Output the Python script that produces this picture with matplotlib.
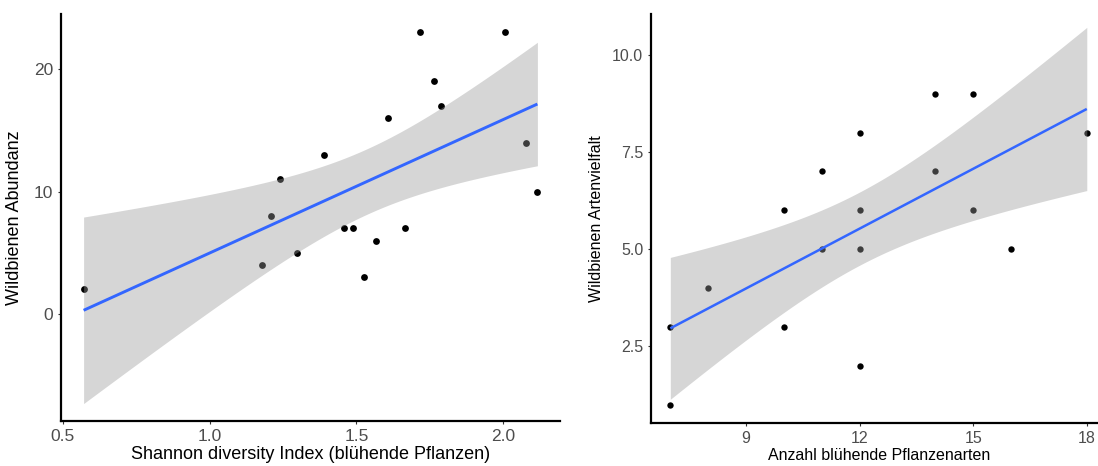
import numpy as np
import matplotlib
matplotlib.use("Agg")
import matplotlib.pyplot as plt
from matplotlib.ticker import FormatStrFormatter

plt.rcParams["font.family"] = ["Liberation Sans", "DejaVu Sans"]

# Shannon diversity of flowering plants vs. wild bee abundance
shannon_index = [0.571, 1.179, 1.209, 1.239, 1.299, 1.388, 1.457, 1.488, 1.527,
                 1.568, 1.608, 1.666, 1.717, 1.765, 1.787, 2.005, 2.076, 2.116]
bee_abundance = [2, 4, 8, 11, 5, 13, 7, 7, 3, 6, 16, 7, 23, 19, 17, 23, 14, 10]

# Number of flowering plant species vs. wild bee species richness
plant_species = [7, 7, 8, 10, 10, 11, 11, 12, 12, 12, 12, 14, 14, 15, 15, 16, 18]
bee_species = [3, 1, 4, 6, 3, 7, 5, 8, 6, 5, 2, 9, 7, 9, 6, 5, 8]

left_xticks = [0.5, 1.0, 1.5, 2.0]
left_yticks = [0, 10, 20]
right_xticks = [9, 12, 15, 18]
right_yticks = [2.5, 5.0, 7.5, 10.0]


def t_quantile(df):
    try:
        from scipy import stats
        return float(stats.t.ppf(0.975, df))
    except Exception:
        table = {14: 2.1448, 15: 2.1314, 16: 2.1199, 17: 2.1098, 18: 2.1009}
        return table[df]


def lm_fit(x, y, n_grid=100):
    """Least-squares line with a 95% confidence band for the mean."""
    x = np.asarray(x, float)
    y = np.asarray(y, float)
    n = len(x)
    slope, intercept = np.polyfit(x, y, 1)
    resid = y - (intercept + slope * x)
    s = np.sqrt(np.sum(resid ** 2) / (n - 2))
    xbar = x.mean()
    sxx = np.sum((x - xbar) ** 2)
    xg = np.linspace(x.min(), x.max(), n_grid)
    yg = intercept + slope * xg
    se = s * np.sqrt(1.0 / n + (xg - xbar) ** 2 / sxx)
    t = t_quantile(n - 2)
    return xg, yg, yg - t * se, yg + t * se


def style_axes(ax, tick_size):
    for side in ("top", "right"):
        ax.spines[side].set_visible(False)
    for side in ("left", "bottom"):
        ax.spines[side].set_linewidth(1.6)
        ax.spines[side].set_color("black")
    ax.tick_params(axis="both", length=2.5, width=0.8, color="#333333",
                   labelcolor="#4d4d4d", labelsize=tick_size, pad=3)
    ax.set_facecolor("white")


fig = plt.figure(figsize=(10.98, 4.66), dpi=100)
fig.patch.set_facecolor("white")

# Left panel
ax1 = fig.add_axes([61 / 1098, 45 / 466, 499 / 1098, 407 / 466])
xg, yg, lo, hi = lm_fit(shannon_index, bee_abundance)
ax1.scatter(shannon_index, bee_abundance, s=24, color="black", zorder=2,
            linewidths=0)
ax1.fill_between(xg, lo, hi, color="#999999", alpha=0.4, linewidth=0, zorder=3)
ax1.plot(xg, yg, color="#3366FF", linewidth=2.1, zorder=4,
         solid_capstyle="butt")
ax1.set_xlim(0.494, 2.193)
ax1.set_ylim(-8.74, 24.5)
ax1.set_xticks(left_xticks)
ax1.set_yticks(left_yticks)
ax1.xaxis.set_major_formatter(FormatStrFormatter("%.1f"))
style_axes(ax1, 12.5)
ax1.set_xlabel("Shannon diversity Index (blühende Pflanzen)", fontsize=13,
               color="black", labelpad=2)
ax1.set_ylabel("Wildbienen Abundanz", fontsize=13, color="black", labelpad=8)

# Right panel
ax2 = fig.add_axes([651 / 1098, 43 / 466, 456.6 / 1098, 409 / 466])
xg2, yg2, lo2, hi2 = lm_fit(plant_species, bee_species)
ax2.scatter(plant_species, bee_species, s=21, color="black", zorder=2,
            linewidths=0)
ax2.fill_between(xg2, lo2, hi2, color="#999999", alpha=0.4, linewidth=0,
                 zorder=3)
ax2.plot(xg2, yg2, color="#3366FF", linewidth=1.8, zorder=4,
         solid_capstyle="butt")
ax2.set_xlim(6.49, 18.55)
ax2.set_ylim(0.53, 11.05)
ax2.set_xticks(right_xticks)
ax2.set_yticks(right_yticks)
ax2.yaxis.set_major_formatter(FormatStrFormatter("%.1f"))
style_axes(ax2, 11.5)
ax2.set_xlabel("Anzahl blühende Pflanzenarten", fontsize=11.5, color="black",
               labelpad=2)
ax2.set_ylabel("Wildbienen Artenvielfalt", fontsize=11.5, color="black",
               labelpad=6)

fig.savefig("out.png", dpi=100, facecolor="white")
